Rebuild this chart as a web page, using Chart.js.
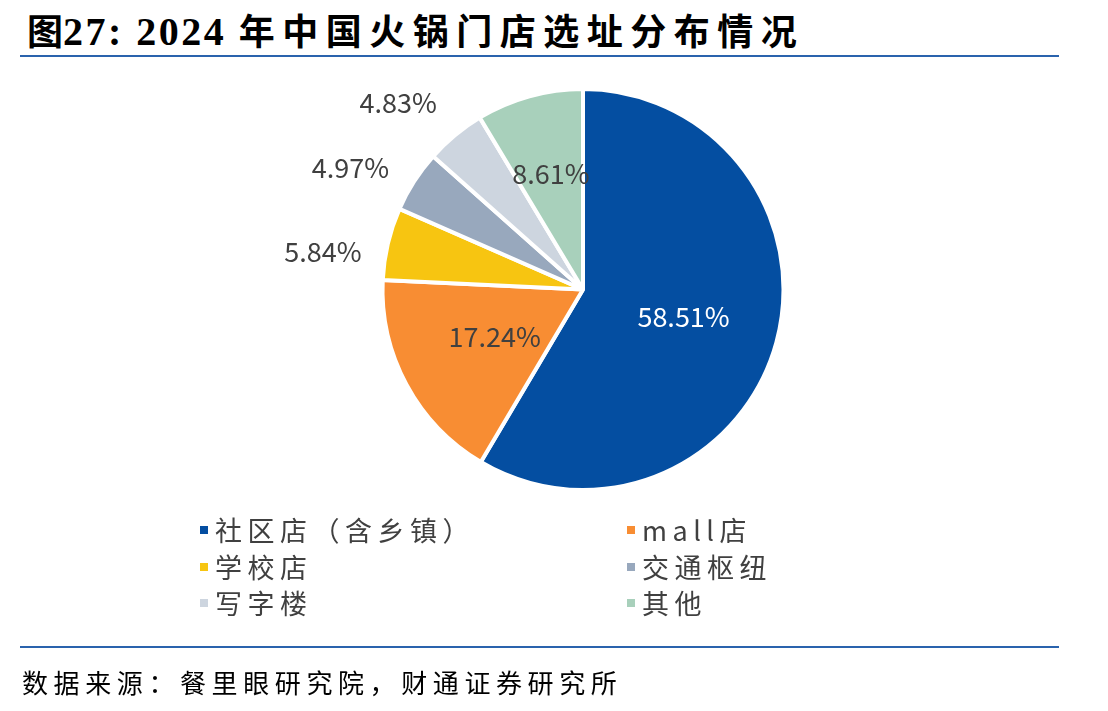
<!DOCTYPE html>
<html><head><meta charset="utf-8">
<script src="https://cdn.jsdelivr.net/npm/chart.js@4.4.1/dist/chart.umd.min.js"></script>
<style>
html,body{margin:0;padding:0;background:#fff;width:1108px;height:711px;overflow:hidden;}
#title{position:absolute;left:27px;top:4px;font-family:"Noto Sans CJK SC";font-weight:bold;font-size:36px;color:#000;white-space:nowrap;line-height:50px;}
#title .lat{font-family:"Liberation Serif";font-size:40px;letter-spacing:2.5px;}
#title .cjk{letter-spacing:7.5px;}
.rule{position:absolute;left:20px;width:1039px;height:2px;background:#2a63ad;}
#wrap{position:absolute;left:0;top:0;width:1108px;height:711px;}
#legend{position:absolute;left:0;top:0;font-family:"Noto Sans CJK SC";font-size:27px;color:#404040;}
.li{position:absolute;white-space:nowrap;letter-spacing:5.5px;line-height:36px;}
.sw{position:absolute;width:8px;height:8px;left:-15px;top:14px;}
#foot{position:absolute;left:22px;top:664px;font-family:"Noto Sans CJK SC";font-size:26px;letter-spacing:5.6px;color:#000;white-space:nowrap;line-height:36px;}
</style></head>
<body>
<div id="title"><span class="cjk" style="letter-spacing:0">图</span><span class="lat">27: 2024 </span><span class="cjk">年中国火锅门店选址分布情况</span></div>
<div class="rule" style="top:55px"></div>
<div id="wrap"><canvas id="c" width="1108" height="711"></canvas></div>
<div id="legend"></div>
<div class="rule" style="top:646px"></div>
<div id="foot">数据来源：餐里眼研究院，财通证券研究所</div>
<script>
const categories = ["社区店（含乡镇）", "mall店", "学校店", "交通枢纽", "写字楼", "其他"];
const shares = [58.51, 17.24, 5.84, 4.97, 4.83, 8.61];
const valueLabels = ["58.51%", "17.24%", "5.84%", "4.97%", "4.83%", "8.61%"];
const colors = ["#044ea1", "#f88d33", "#f7c511", "#98a8bd", "#cdd5df", "#a8d0bb"];

// label placement styling
const labelMode = ["in", "in", "out", "out", "out", "in"];
const labelRadius = [0.52, 0.5, 1.31, 1.31, 1.31, 0.6];
const labelColor = ["#ffffff", "#404040", "#404040", "#404040", "#404040", "#404040"];

const labelPlugin = {
  id: "sliceLabels",
  afterDatasetsDraw(chart) {
    const ctx = chart.ctx;
    const meta = chart.getDatasetMeta(0);
    ctx.save();
    ctx.font = '27px "Noto Sans CJK SC"';
    ctx.textAlign = "center";
    ctx.textBaseline = "middle";
    meta.data.forEach((arc, i) => {
      const p = arc.getProps(["x", "y", "startAngle", "endAngle", "outerRadius"], true);
      let mid = (p.startAngle + p.endAngle) / 2;
      if (labelMode[i] === "out") mid -= 5 * Math.PI / 180;
      const r = p.outerRadius * labelRadius[i];
      const x = p.x + Math.cos(mid) * r;
      const y = p.y + Math.sin(mid) * r;
      ctx.fillStyle = labelColor[i];
      ctx.fillText(valueLabels[i], x, y);
    });
    ctx.restore();
  }
};

new Chart(document.getElementById("c"), {
  type: "pie",
  data: {
    labels: categories,
    datasets: [{
      data: shares,
      backgroundColor: colors,
      borderColor: "#ffffff",
      borderWidth: 4
    }]
  },
  options: {
    responsive: false,
    animation: false,
    rotation: 0,
    layout: { padding: { left: 380, top: 87, right: 322, bottom: 219 } },
    plugins: { legend: { display: false }, tooltip: { enabled: false } }
  },
  plugins: [labelPlugin]
});

// legend built from the data arrays
const legend = document.getElementById("legend");
const colX = [215, 642];
const rowY = [512, 549, 585];
categories.forEach((name, i) => {
  const d = document.createElement("div");
  d.className = "li";
  d.style.left = colX[i % 2] + "px";
  d.style.top = rowY[Math.floor(i / 2)] + "px";
  d.innerHTML = '<span class="sw" style="background:' + colors[i] + '"></span>' + name;
  legend.appendChild(d);
});
</script>
</body></html>
